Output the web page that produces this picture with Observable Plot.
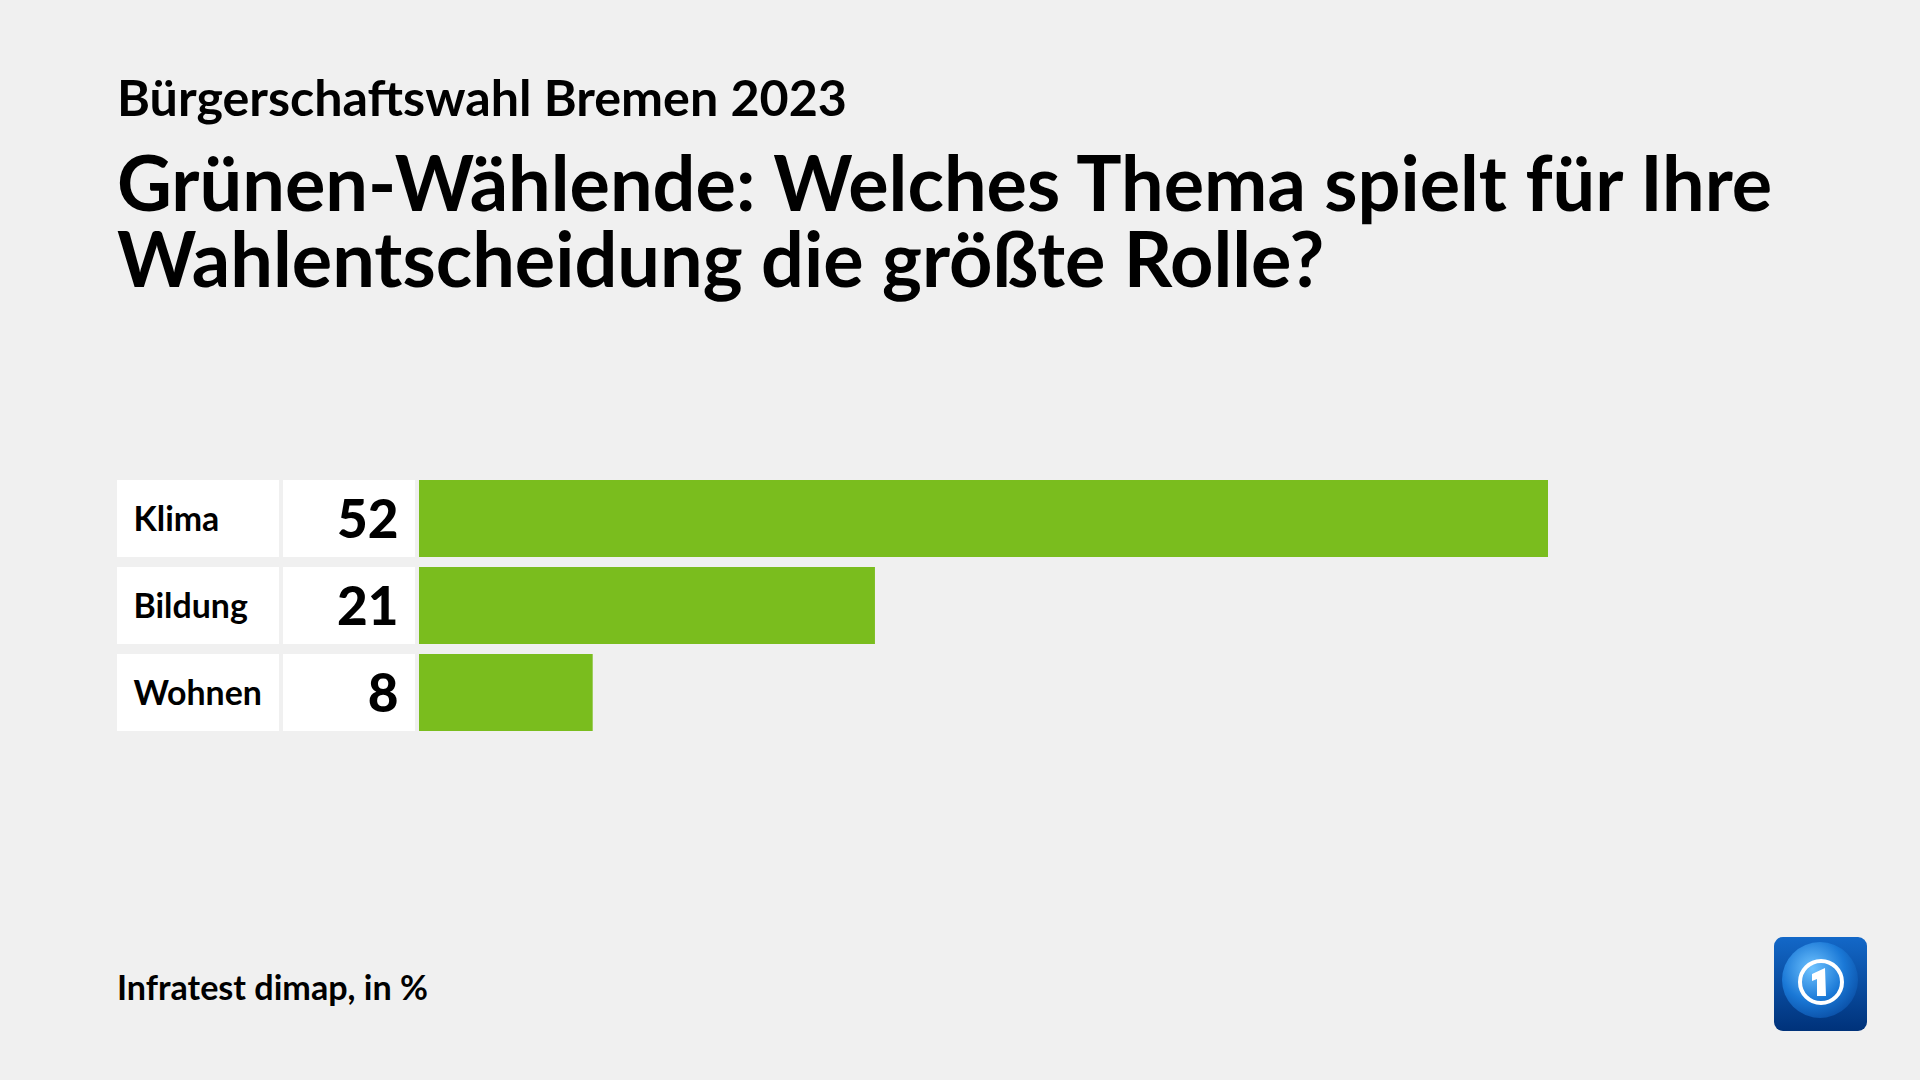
<!DOCTYPE html>
<html><head><meta charset="utf-8">
<script src="https://cdn.jsdelivr.net/npm/d3@7"></script>
<script src="https://cdn.jsdelivr.net/npm/@observablehq/plot@0.6"></script>
<style>
html,body{margin:0;padding:0;background:#f0f0f0;}
#root{position:relative;width:1920px;height:1080px;overflow:hidden;background:#f0f0f0;}
#root > *{position:absolute;}
</style></head><body><div id="root"></div>
<script>
// ---- data ----
const topics = ["Klima", "Bildung", "Wohnen"];
const values = [52, 21, 8];
const subtitle = "Bürgerschaftswahl Bremen 2023";
const titleLines = ["Grünen-Wählende: Welches Thema spielt für Ihre", "Wahlentscheidung die größte Rolle?"];
const source = "Infratest dimap, in %";

const rows = topics.map((t, i) => ({topic: t, value: values[i]}));
const FONT = "Lato, 'Open Sans', sans-serif";
const GREEN = "#7abd1e";
const root = document.getElementById("root");

// font size fitted to a target width
const ctx = document.createElement("canvas").getContext("2d");
function fitSize(text, width, weight) {
  ctx.font = `${weight} 100px Lato`;
  return 100 * width / ctx.measureText(text).width;
}

// ---- header / footer overlay ----
const ns = "http://www.w3.org/2000/svg";
const over = document.createElementNS(ns, "svg");
over.setAttribute("width", 1920); over.setAttribute("height", 1080);
over.style.left = "0px"; over.style.top = "0px";
root.appendChild(over);
function addText(str, x, y, size, weight) {
  const t = document.createElementNS(ns, "text");
  t.setAttribute("x", x); t.setAttribute("y", y);
  t.setAttribute("font-family", FONT); t.setAttribute("font-size", size.toFixed(2));
  t.setAttribute("font-weight", weight); t.setAttribute("fill", "#000");
  t.textContent = str; over.appendChild(t);
  return t;
}
const subFs = fitSize(subtitle, 730, 700);
addText(subtitle, 117, 98 + subFs * 0.36, subFs, 700);
const srcFs = fitSize(source, 311, 700);
addText(source, 117, 988 + srcFs * 0.36, srcFs, 700);

// title as a two-line HTML block with a 76px line step
const titleFs = fitSize(titleLines[0], 1660, 700);
ctx.font = `700 ${titleFs}px Lato`;
const m = ctx.measureText(titleLines[0]);
const asc = m.fontBoundingBoxAscent ?? 0.987 * titleFs;
const desc = m.fontBoundingBoxDescent ?? 0.213 * titleFs;
const LH = 76;
const firstBaseline = 184 + titleFs * 0.36;
const titleDiv = document.createElement("div");
titleDiv.style.cssText = `left:117px;top:${firstBaseline - (LH - asc - desc) / 2 - asc}px;font-family:${FONT};font-weight:700;font-size:${titleFs}px;line-height:${LH}px;color:#000;white-space:nowrap;`;
titleLines.forEach((l, i) => {
  if (i) titleDiv.appendChild(document.createElement("br"));
  titleDiv.appendChild(document.createTextNode(l));
});
root.appendChild(titleDiv);

// logo (decoration)
over.insertAdjacentHTML("beforeend", `
<defs>
 <linearGradient id="lg" x1="0" y1="0" x2="0" y2="1"><stop offset="0" stop-color="#1368c8"/><stop offset="1" stop-color="#00327a"/></linearGradient>
 <radialGradient id="gl" cx="0.4" cy="0.35" r="0.7"><stop offset="0" stop-color="#6fc3ff"/><stop offset="0.6" stop-color="#1a78d6"/><stop offset="1" stop-color="#0a4fa6"/></radialGradient>
</defs>
<rect x="1774" y="937" width="93" height="94" rx="9" fill="url(#lg)"/>
<circle cx="1820" cy="980" r="38" fill="url(#gl)"/>
<circle cx="1821" cy="982" r="21" fill="none" stroke="#fff" stroke-width="4"/>
<path d="M1812 974 L1825 968 L1826 996 L1817 996 L1817 979 L1812 981 Z" fill="#fff"/>
`);

// ---- chart: three aligned Plots ----
const H = 252, TOP = 480;
const yOpt = {domain: topics, paddingInner: 0.11, paddingOuter: 0, align: 0, axis: null};
const labelFs = d3.mean([[topics[0], 87], [topics[1], 116], [topics[2], 125]], ([t, w]) => fitSize(t, w, 700));
const valueFs = d3.mean([["52", 61], ["21", 62]], ([t, w]) => fitSize(t, w, 900));

const labelPlot = Plot.plot({
  width: 162, height: H, margin: 0, style: {background: "transparent"},
  x: {domain: [0, 1], axis: null}, y: yOpt,
  marks: [
    Plot.barX(rows, {x1: 0, x2: 1, y: "topic", fill: "white"}),
    Plot.text(rows, {x: 0, y: "topic", text: "topic", textAnchor: "start", dx: 16, dy: 1, fontSize: labelFs, fontWeight: 700, fontFamily: FONT, fill: "#000"})
  ]
});
const valuePlot = Plot.plot({
  width: 132, height: H, margin: 0, style: {background: "transparent"},
  x: {domain: [0, 1], axis: null}, y: yOpt,
  marks: [
    Plot.barX(rows, {x1: 0, x2: 1, y: "topic", fill: "white"}),
    Plot.text(rows, {x: 1, y: "topic", text: d => String(d.value), textAnchor: "end", dx: -17, dy: 2, fontSize: valueFs, fontWeight: 900, fontFamily: FONT, fill: "#000"})
  ]
});
const barPlot = Plot.plot({
  width: 1129, height: H, margin: 0, style: {background: "transparent"},
  x: {domain: [0, d3.max(values)], axis: null}, y: yOpt,
  marks: [
    Plot.barX(rows, {x: "value", y: "topic", fill: GREEN})
  ]
});
[[labelPlot, 117], [valuePlot, 283], [barPlot, 419]].forEach(([p, x]) => {
  p.style.position = "absolute"; p.style.left = x + "px"; p.style.top = TOP + "px";
  root.appendChild(p);
});
</script>
</body></html>
